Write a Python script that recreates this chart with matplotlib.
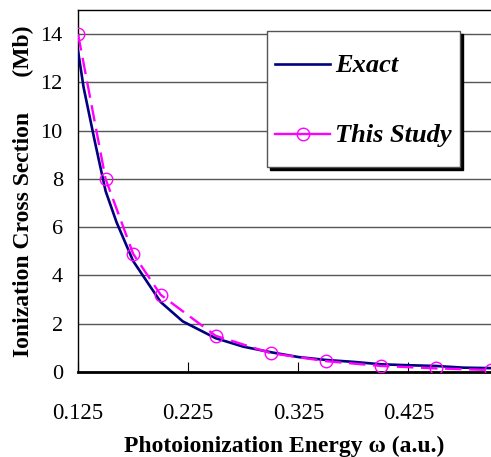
import matplotlib
matplotlib.use('Agg')
import matplotlib.pyplot as plt
import numpy as np
from matplotlib.legend_handler import HandlerLine2D

plt.rcParams['font.family'] = ['Liberation Serif', 'DejaVu Serif']

# exact curve
exact_x = [0.125, 0.13, 0.14, 0.15, 0.16, 0.175, 0.2, 0.22, 0.25, 0.275,
           0.3, 0.325, 0.35, 0.375, 0.4, 0.425, 0.45, 0.475, 0.5]
exact_y = [13.3, 11.8, 9.6, 7.5, 6.2, 4.6, 2.9, 2.1, 1.4, 1.05,
           0.82, 0.62, 0.5, 0.42, 0.32, 0.28, 0.25, 0.18, 0.16]

# this study
study_x = [0.125, 0.15, 0.175, 0.2, 0.25, 0.3, 0.35, 0.4, 0.45, 0.5]
study_y = [14.0, 8.0, 4.9, 3.2, 1.5, 0.78, 0.45, 0.25, 0.15, 0.08]

xticks = [0.125, 0.225, 0.325, 0.425]
yticks = [0, 2, 4, 6, 8, 10, 12, 14]

fig = plt.figure(figsize=(4.91, 4.57), dpi=100)
ax = fig.add_axes([0.159, 0.186, 0.841, 0.792])

ax.plot(exact_x, exact_y, color='#000080', lw=1.9, label='Exact', zorder=3)
ax.plot(study_x, study_y, color='#ff00ff', lw=1.7, dashes=(7, 3.2),
        marker='o', ms=9, mfc='none', mec='#ff00ff', mew=1.0,
        label='This Study', zorder=4)

ax.set_xlim(0.125, 0.5)
ax.set_ylim(0, 15)
ax.set_xticks(xticks)
ax.set_xticklabels(['0.125', '0.225', '0.325', '0.425'])
ax.set_yticks(yticks)
ax.yaxis.grid(True, color='#555555', lw=1.0)
ax.set_axisbelow(True)
ax.tick_params(axis='x', direction='in', length=7, pad=22, labelsize=16.5)
ax.tick_params(axis='y', length=0, pad=11, labelsize=16)

for s in ['top', 'left']:
    ax.spines[s].set_color('black')
    ax.spines[s].set_linewidth(1.0)
ax.spines['right'].set_visible(False)
ax.spines['bottom'].set_linewidth(2.0)

ax.set_xlabel('Photoionization Energy \u03c9 (a.u.)', fontsize=17,
              fontweight='bold', labelpad=9)
ax.set_ylabel('Ionization Cross Section      (Mb)', fontsize=17,
              fontweight='bold', labelpad=5)


def lower_handle(h, orig):
    # move legend sample down to the middle of its text
    h.update_from(orig)
    h.set_ydata(np.asarray(h.get_ydata()) - 6)
    if orig.get_label() == 'This Study':
        h.set_linestyle('-')


hl = HandlerLine2D(update_func=lower_handle)
leg = ax.legend(loc='upper right', bbox_to_anchor=(0.925, 0.942),
                borderaxespad=0,
                prop={'weight': 'bold', 'style': 'italic', 'size': 19},
                fancybox=False, shadow={'color': 'black', 'alpha': 1},
                framealpha=1, edgecolor='#555555', labelspacing=0.7,
                handlelength=2.1, handleheight=2.6, borderpad=0.3,
                handletextpad=0.2,
                handler_map={plt.Line2D: hl})
leg.get_frame().set_linewidth(1.0)

fig.savefig('out.png', dpi=100)
